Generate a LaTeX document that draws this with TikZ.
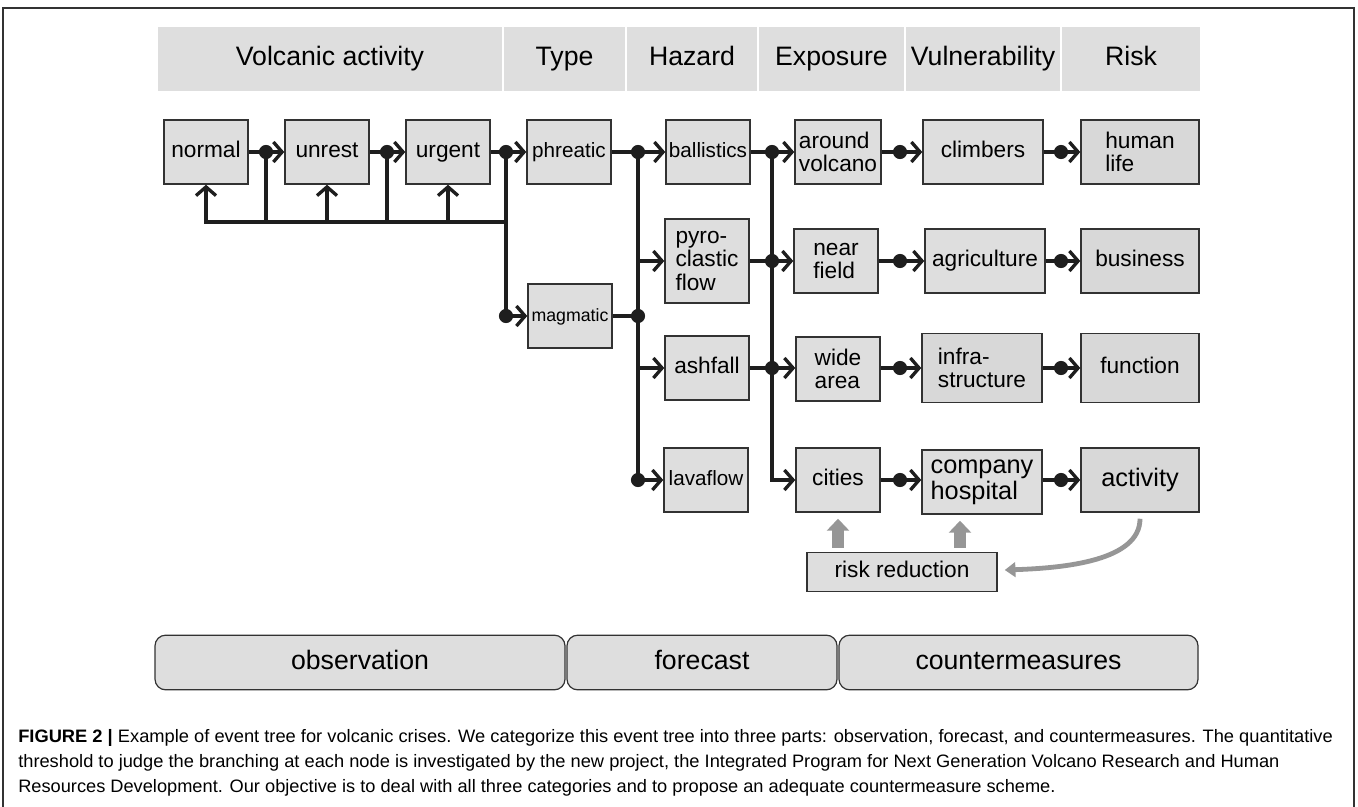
\documentclass[tikz,border=0pt]{standalone}
\usepackage{fontspec}
\setmainfont{Liberation Sans}
\usetikzlibrary{arrows.meta,calc}
\definecolor{boxgray}{RGB}{222,222,222}
\definecolor{boxgrayb}{RGB}{216,216,216}
\definecolor{edgegray}{RGB}{50,50,50}
\definecolor{wirecol}{RGB}{30,30,30}
\definecolor{arrowgray}{RGB}{150,150,150}
\newsavebox\capbox
\newcommand\fitto[2]{\sbox\capbox{#2}\pgfmathsetmacro\capratio{#1/\wd\capbox}\scalebox{\capratio}[1]{\usebox\capbox}}
\tikzset{
  mbox/.style={draw=edgegray, line width=1.1pt, fill=boxgray, minimum width=63pt, minimum height=48pt,
    inner sep=1pt, align=left, font=\fontsize{17}{17.6}\selectfont},
  box/.style={mbox, text height=12pt, text depth=3.5pt},
  vbox/.style={box, minimum width=90pt},
  rbox/.style={box, minimum width=88.5pt, fill=boxgrayb},
  wire/.style={draw=wirecol, line width=2.5pt},
  tipd/.style={-{Straight Barb[length=6.5pt,width=15pt]}},
  hdr/.style={fill=boxgray, draw=white, line width=1.2pt, minimum height=49.5pt, inner sep=0pt,
    text height=14pt, text depth=4pt, font=\fontsize{20}{22}\selectfont},
  part/.style={draw=edgegray, line width=0.9pt, fill=boxgray, rounded corners=8pt, minimum height=41pt,
    inner sep=0pt, text height=14pt, text depth=4pt, font=\fontsize{20}{22}\selectfont},
  blockarrow/.style={draw=arrowgray, line width=9pt, -{Triangle[length=9pt,width=16.5pt]}},
  curvearrow/.style={draw=arrowgray, line width=3.6pt, -{Triangle[length=8pt,width=11pt]}},
  capline/.style={anchor=base west, inner sep=0pt, font=\fontsize{13.5}{15}\selectfont}
}
\newcommand\jdot[1]{\fill[wirecol] (#1) circle[radius=5.3pt];}
\begin{document}
\begin{tikzpicture}[x=0.75pt, y=-0.75pt]
\useasboundingbox (0,0) rectangle (1358,806);
% frame
\draw[edgegray, line width=1pt] (3,812) -- (3,8) -- (1354,8) -- (1354,812);
% header
\node[hdr, minimum width=259.5pt] (hva) at (330,59) {Volcanic activity};
\node[hdr, minimum width=92.25pt] (hty) at (564.5,59) {Type};
\node[hdr, minimum width=99pt] (hhz) at (692,59) {Hazard};
\node[hdr, minimum width=110.25pt] (hex) at (831.5,59) {Exposure};
\node[hdr, minimum width=117pt] (hvu) at (983,59) {Vulnerability};
\node[hdr, minimum width=105pt] (hri) at (1131,59) {Risk};
% boxes
\node[box] (normal) at (206,152) {normal};
\node[box] (unrest) at (327,152) {unrest};
\node[box] (urgent) at (448,152) {urgent};
\node[box, font=\fontsize{15.5}{16}\selectfont] (phreatic) at (569,152) {phreatic};
\node[box, font=\fontsize{13.3}{14}\selectfont] (magmatic) at (570,316) {magmatic};
\node[box, font=\fontsize{15.5}{16}\selectfont] (ballistics) at (708,152) {ballistics};
\node[mbox, minimum height=63pt] (pyro) at (707,261) {pyro-\\clastic\\flow};
\node[box] (ashfall) at (707,368) {ashfall};
\node[box, font=\fontsize{15.5}{16}\selectfont] (lavaflow) at (706,480) {lavaflow};
\node[mbox, minimum width=64.5pt] (around) at (838,152) {around\\volcano};
\node[mbox] (near) at (836,261) {near\\field};
\node[mbox] (wide) at (838,369) {wide\\area};
\node[box] (cities) at (838,480) {cities};
\node[vbox] (climbers) at (983,152) {climbers};
\node[vbox] (agri) at (985,261) {agriculture};
\node[mbox, minimum width=90pt, minimum height=51.75pt, fill=boxgrayb] (infra) at (982,368) {infra-\\structure};
\node[mbox, minimum width=90pt, font=\fontsize{19}{19.5}\selectfont] (company) at (982,482) {company\\hospital};
\node[mbox, minimum width=88.5pt, fill=boxgrayb] (human) at (1140,152) {human\\life};
\node[rbox] (business) at (1140,261) {business};
\node[rbox, minimum height=51.75pt] (function) at (1140,368) {function};
\node[rbox, font=\fontsize{19}{19.5}\selectfont, text height=13.5pt, text depth=4pt] (activity) at (1140,480) {activity};
\node[box, minimum width=142.5pt, minimum height=29.25pt] (risk) at (902,572) {risk reduction};
% junctions
\coordinate (j1) at (266,152); \coordinate (j2) at (387,152);
\coordinate (j3) at (506,152); \coordinate (j4) at (506,316);
\coordinate (f0) at (206,222); \coordinate (f1) at (266,222); \coordinate (f2) at (327,222);
\coordinate (f3) at (387,222); \coordinate (f4) at (448,222); \coordinate (f5) at (506,222);
\coordinate (j5) at (638,152); \coordinate (j6) at (638,316); \coordinate (j7) at (638,480);
\coordinate (b2) at (638,261); \coordinate (b3) at (638,368);
\coordinate (k1) at (772,152); \coordinate (k2) at (772,261); \coordinate (k3) at (772,368); \coordinate (k4) at (772,480);
\coordinate (m1) at (900,152); \coordinate (m2) at (900,261); \coordinate (m3) at (900,368); \coordinate (m4) at (900,480);
\coordinate (n1) at (1061,152); \coordinate (n2) at (1061,261); \coordinate (n3) at (1061,368); \coordinate (n4) at (1061,480);
% volcanic activity chain
\draw[wire, tipd] (normal) -- (unrest);
\draw[wire, tipd] (unrest) -- (urgent);
\draw[wire, tipd] (urgent) -- (phreatic);
\draw[wire] (j3) -- (j4);
\draw[wire, tipd] (j4) -- (magmatic);
\draw[wire] (j1) -- (f1);
\draw[wire] (j2) -- (f3);
\draw[wire, tipd] (f5) -- (f0) -- (normal);
\draw[wire, tipd] (f2) -- (unrest);
\draw[wire, tipd] (f4) -- (urgent);
% type -> hazard
\draw[wire, tipd] (phreatic) -- (ballistics);
\draw[wire] (magmatic) -- (j6);
\draw[wire] (j5) -- (j7);
\draw[wire, tipd] (b2) -- (pyro);
\draw[wire, tipd] (b3) -- (ashfall);
\draw[wire, tipd] (j7) -- (lavaflow);
% hazard -> exposure
\draw[wire, tipd] (ballistics) -- (around);
\draw[wire, tipd] (pyro) -- (near);
\draw[wire, tipd] (ashfall) -- (ashfall -| wide.west);
\draw[wire, tipd] (k1) -- (k4) -- (cities);
% exposure -> vulnerability
\draw[wire, tipd] (around) -- (climbers);
\draw[wire, tipd] (near) -- (agri);
\draw[wire, tipd] (wide.east |- m3) -- (infra);
\draw[wire, tipd] (cities) -- (cities -| company.west);
% vulnerability -> risk
\draw[wire, tipd] (climbers) -- (human);
\draw[wire, tipd] (agri) -- (business);
\draw[wire, tipd] (infra) -- (function);
\draw[wire, tipd] (company.east |- n4) -- (activity);
% dots
\foreach \c in {j1,j2,j3,j4,j5,j6,j7,k1,k2,k3,m1,m2,m3,m4,n1,n2,n3,n4} {\jdot{\c}}
% risk reduction arrows
\draw[blockarrow, shorten <=3pt, shorten >=4.5pt] (risk.north -| cities.south) -- (cities.south);
\draw[blockarrow] ($(risk.north)+(58,-4)$) -- ($(company.south)+(-22,6)$);
\draw[curvearrow] ($(activity.south)+(0,6)$) .. controls +(0,42) and +(60,-2) .. ($(risk.east)+(7,-2)$);
% parts
\node[part, minimum width=307.5pt] (obs) at (360,662.5) {observation};
\node[part, minimum width=202.5pt] (fore) at (702,662.5) {forecast};
\node[part, minimum width=269.25pt] (counter) at (1018.5,662.5) {countermeasures};
% caption
\node[capline] (cap1) at (18,742) {\fitto{986pt}{\textbf{FIGURE 2 |} Example of event tree for volcanic crises. We categorize this event tree into three parts: observation, forecast, and countermeasures. The quantitative}};
\node[capline] (cap2) at (18,767) {\fitto{946pt}{threshold to judge the branching at each node is investigated by the new project, the Integrated Program for Next Generation Volcano Research and Human}};
\node[capline] (cap3) at (18,792) {\fitto{778pt}{Resources Development. Our objective is to deal with all three categories and to propose an adequate countermeasure scheme.}};
\end{tikzpicture}
\end{document}
